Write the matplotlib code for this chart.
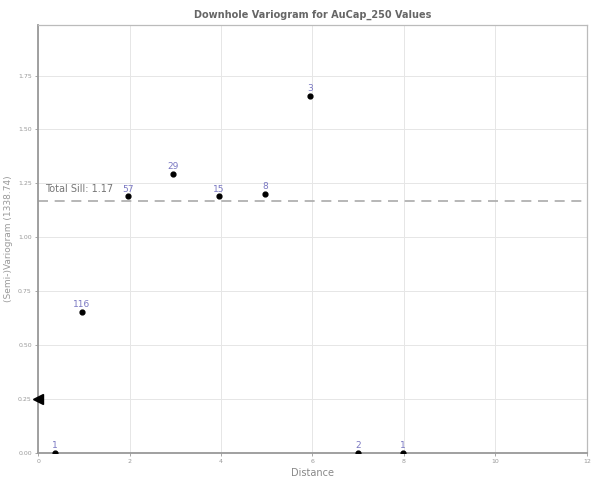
import numpy as np
import matplotlib
matplotlib.use('Agg')
import matplotlib.pyplot as plt

# lag distances, semivariance values and pair counts
lags = [0.37, 0.96, 1.97, 2.95, 3.96, 4.96, 5.95, 7.0, 7.98]
gamma = [0.0, 0.653, 1.19, 1.295, 1.19, 1.20, 1.656, 0.0, 0.0]
pairs = [1, 116, 57, 29, 15, 8, 3, 2, 1]
total_sill = 1.17
nugget = 0.25

fig = plt.figure(figsize=(6.05, 4.88), dpi=100)
ax = fig.add_axes([0.063, 0.072, 0.907, 0.877])

ax.grid(True, color='#e6e6e6', linewidth=0.7)
ax.set_axisbelow(True)

ax.scatter(lags, gamma, s=12, color='black', zorder=3)
for x, y, n in zip(lags, gamma, pairs):
    ax.annotate(str(n), (x, y), xytext=(0, 2), textcoords='offset points',
                ha='center', va='bottom', fontsize=6.5, color='#7a78c2')

ax.axhline(total_sill, color='#aaaaaa', linestyle=(0, (6, 4)), linewidth=1.2)
ax.text(0.15, total_sill + 0.03, 'Total Sill: 1.17', fontsize=7, color='#777777',
        va='bottom', ha='left')

ax.plot([0], [nugget], marker='<', markersize=7, color='black', clip_on=False, zorder=4)

ax.set_xlim(0, 12)
ax.set_ylim(0, 1.985)
ax.set_xticks(np.arange(0, 13, 2))
ax.set_yticks(np.arange(0, 1.8, 0.25))
ax.set_yticklabels(['%.2f' % v for v in np.arange(0, 1.8, 0.25)])
ax.tick_params(labelsize=4.5, colors='#999999', length=2.5, width=0.6, pad=2)

for side in ['left', 'bottom']:
    ax.spines[side].set_color('#999999')
    ax.spines[side].set_linewidth(1.3)
for side in ['top', 'right']:
    ax.spines[side].set_color('#bbbbbb')
    ax.spines[side].set_linewidth(0.9)

ax.set_title('Downhole Variogram for AuCap_250 Values', fontsize=7, color='#666666',
             fontweight='bold', pad=5)
ax.set_xlabel('Distance', fontsize=7, color='#888888', labelpad=3)
ax.set_ylabel('(Semi-)Variogram (1338.74)', fontsize=6.5, color='#999999')
ax.yaxis.set_label_coords(-0.046, 0.5)

fig.savefig('out.png', dpi=100)
